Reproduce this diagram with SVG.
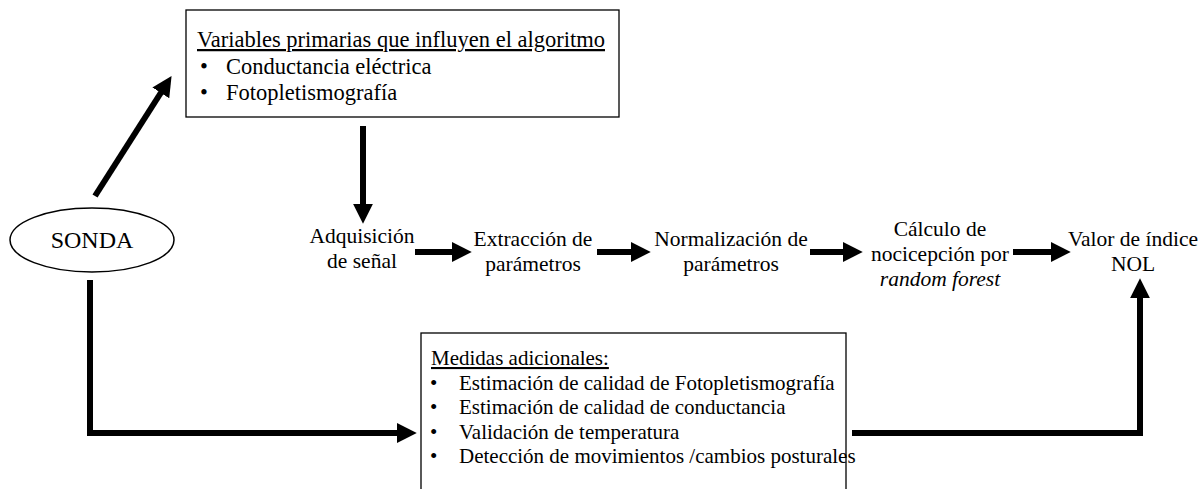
<svg xmlns="http://www.w3.org/2000/svg" width="1202" height="489" viewBox="0 0 1202 489">
<defs>
<marker id="ah" markerUnits="userSpaceOnUse" markerWidth="20" markerHeight="20" viewBox="0 0 18 18" refX="2" refY="9" orient="auto">
<path d="M0,0 L18,9 L0,18 Z" fill="#000"/>
</marker>
</defs>
<rect width="1202" height="489" fill="#fff"/>
<g id="connectors" fill="none" stroke="#000" stroke-width="6">
<line marker-end="url(#ah)" x1="95" y1="196" x2="162" y2="91"/>
<line marker-end="url(#ah)" x1="363" y1="126" x2="363" y2="206"/>
<line marker-end="url(#ah)" x1="415" y1="252" x2="454" y2="252"/>
<line marker-end="url(#ah)" x1="597" y1="252" x2="633" y2="252"/>
<line marker-end="url(#ah)" x1="810" y1="252" x2="845" y2="252"/>
<line marker-end="url(#ah)" x1="1013" y1="252" x2="1053" y2="252"/>
<polyline marker-end="url(#ah)" points="90,280 90,433 399,433"/>
<polyline marker-end="url(#ah)" points="852,433 1140,433 1140,296"/>
</g>
<g id="sonda">
<ellipse cx="92" cy="240" rx="82" ry="32" fill="#fff" stroke="#000" stroke-width="1.5"/>
<text font-family="Liberation Serif" x="92" y="248" font-size="24" text-anchor="middle">SONDA</text>
</g>
<g id="variables">
<rect x="186" y="10" width="433" height="107" fill="#fff" stroke="#000" stroke-width="1.3"/>
<text font-family="Liberation Serif" font-size="22.5" text-decoration="underline" x="197" y="47">Variables primarias que influyen el algoritmo</text>
<text font-family="Liberation Serif" font-size="22.5" x="200" y="74">&#8226;</text>
<text font-family="Liberation Serif" font-size="22.5" x="226" y="74">Conductancia el&#233;ctrica</text>
<text font-family="Liberation Serif" font-size="22.5" x="200" y="100">&#8226;</text>
<text font-family="Liberation Serif" font-size="22.5" x="226" y="100">Fotopletismograf&#237;a</text>
</g>
<g id="adquisicion">
<text font-family="Liberation Serif" font-size="21.5" text-anchor="middle" x="362" y="243">Adquisici&#243;n</text>
<text font-family="Liberation Serif" font-size="21.5" text-anchor="middle" x="362" y="268">de se&#241;al</text>
</g>
<g id="extraccion">
<text font-family="Liberation Serif" font-size="21.5" text-anchor="middle" x="533" y="246">Extracci&#243;n de</text>
<text font-family="Liberation Serif" font-size="21.5" text-anchor="middle" x="533" y="271">par&#225;metros</text>
</g>
<g id="normalizacion">
<text font-family="Liberation Serif" font-size="21.5" text-anchor="middle" x="731" y="246">Normalizaci&#243;n de</text>
<text font-family="Liberation Serif" font-size="21.5" text-anchor="middle" x="731" y="271">par&#225;metros</text>
</g>
<g id="calculo">
<text font-family="Liberation Serif" font-size="21.5" text-anchor="middle" x="940" y="236">C&#225;lculo de</text>
<text font-family="Liberation Serif" font-size="21.5" text-anchor="middle" x="940" y="261">nocicepci&#243;n por</text>
<text font-family="Liberation Serif" font-size="21.5" text-anchor="middle" x="940" y="286" font-style="italic">random forest</text>
</g>
<g id="nol">
<text font-family="Liberation Serif" font-size="21.5" text-anchor="middle" x="1133" y="246">Valor de &#237;ndice</text>
<text font-family="Liberation Serif" font-size="21.5" text-anchor="middle" x="1133" y="271">NOL</text>
</g>
<g id="medidas">
<rect x="421" y="333" width="425" height="170" fill="#fff" stroke="#000" stroke-width="1.3"/>
<text font-family="Liberation Serif" font-size="21" text-decoration="underline" x="431" y="365">Medidas adicionales:</text>
<text font-family="Liberation Serif" font-size="21" x="430" y="390">&#8226;</text>
<text font-family="Liberation Serif" font-size="21" x="459" y="390">Estimaci&#243;n de calidad de Fotopletismograf&#237;a</text>
<text font-family="Liberation Serif" font-size="21" x="430" y="414">&#8226;</text>
<text font-family="Liberation Serif" font-size="21" x="459" y="414">Estimaci&#243;n de calidad de conductancia</text>
<text font-family="Liberation Serif" font-size="21" x="430" y="439">&#8226;</text>
<text font-family="Liberation Serif" font-size="21" x="459" y="439">Validaci&#243;n de temperatura</text>
<text font-family="Liberation Serif" font-size="21" x="430" y="463">&#8226;</text>
<text font-family="Liberation Serif" font-size="21" x="459" y="463">Detecci&#243;n de movimientos /cambios posturales</text>
</g>
</svg>
